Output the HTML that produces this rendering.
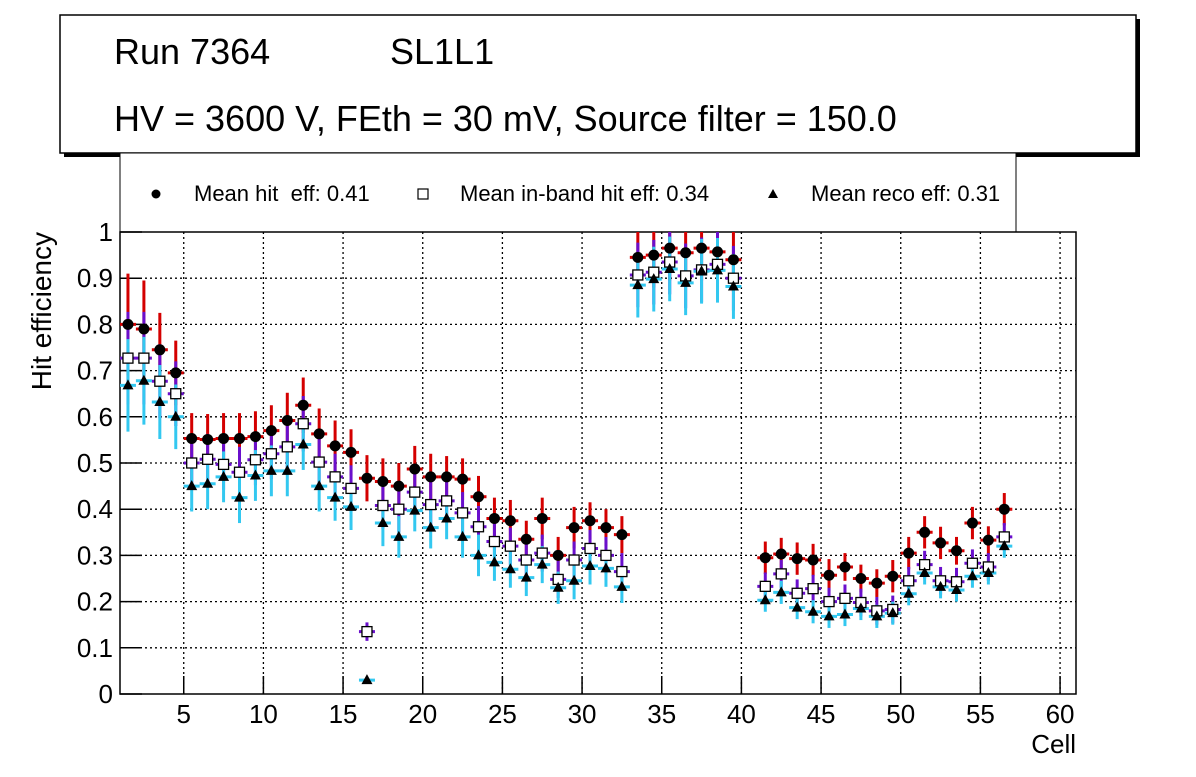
<!DOCTYPE html>
<html><head><meta charset="utf-8"><style>
body{margin:0;background:#fff;font-family:"Liberation Sans",sans-serif}
svg text{font-family:"Liberation Sans",sans-serif}
</style></head><body>
<svg id="c" width="1196" height="772" xmlns="http://www.w3.org/2000/svg">
<rect x="64" y="19" width="1076" height="138" fill="#000"/>
<rect x="60" y="15" width="1076" height="138" fill="#fff" stroke="#000" stroke-width="1.5"/>
<text x="114" y="64" font-size="36">Run 7364</text>
<text x="390" y="64" font-size="36">SL1L1</text>
<text x="114" y="131" font-size="36">HV = 3600 V, FEth = 30 mV, Source filter = 150.0</text>
<g>
<rect x="120" y="153" width="896" height="79" fill="#fff" stroke="#000" stroke-width="1"/>
<circle cx="156" cy="194" r="4.5" fill="#000"/>
<text x="194" y="201" font-size="22" xml:space="preserve">Mean hit  eff: 0.41</text>
<rect x="418" y="189" width="10" height="10" fill="#fff" stroke="#000" stroke-width="1.2"/>
<text x="460" y="201" font-size="22">Mean in-band hit eff: 0.34</text>
<polygon points="773,189 778,198 768,198" fill="#000"/>
<text x="811" y="201" font-size="22">Mean reco eff: 0.31</text>
</g>
<g id="plot"></g>
</svg>
<script>
const cells=[];for(let i=1;i<=56;i++)cells.push(i);
const hitEff=[0.80,0.79,0.745,0.695,0.553,0.551,0.553,0.553,0.557,0.57,0.592,0.625,0.563,0.537,0.523,0.467,0.46,0.45,0.487,0.47,0.47,0.465,0.427,0.38,0.375,0.335,0.38,0.30,0.36,0.375,0.36,0.345,0.945,0.95,0.965,0.955,0.965,0.957,0.94,null,0.295,0.303,0.293,0.29,0.257,0.275,0.25,0.24,0.255,0.305,0.35,0.327,0.31,0.37,0.333,0.40];
const hitErr=[0.11,0.105,0.08,0.07,0.055,0.055,0.055,0.055,0.055,0.055,0.06,0.06,0.055,0.055,0.05,0.05,0.05,0.05,0.05,0.05,0.045,0.045,0.045,0.045,0.045,0.04,0.045,0.04,0.045,0.04,0.04,0.04,0.07,0.07,0.07,0.07,0.07,0.07,0.07,null,0.035,0.035,0.035,0.035,0.035,0.03,0.03,0.03,0.035,0.035,0.035,0.035,0.03,0.035,0.03,0.035];
const inbandEff=[0.727,0.727,0.677,0.65,0.50,0.508,0.497,0.48,0.507,0.52,0.535,0.585,0.502,0.47,0.445,0.135,0.408,0.40,0.437,0.41,0.418,0.392,0.362,0.33,0.32,0.29,0.305,0.248,0.29,0.315,0.30,0.265,0.907,0.913,0.935,0.905,0.918,0.93,0.90,null,0.233,0.26,0.218,0.228,0.2,0.207,0.198,0.18,0.183,0.245,0.28,0.245,0.243,0.283,0.275,0.34];
const inbandErr=[0.1,0.1,0.08,0.07,0.055,0.055,0.055,0.055,0.055,0.055,0.055,0.06,0.055,0.05,0.05,0.02,0.05,0.05,0.05,0.05,0.045,0.045,0.045,0.04,0.04,0.04,0.04,0.04,0.04,0.04,0.04,0.04,0.07,0.07,0.07,0.07,0.07,0.07,0.07,null,0.03,0.03,0.03,0.03,0.03,0.03,0.03,0.03,0.03,0.03,0.03,0.03,0.03,0.03,0.03,0.03];
const recoEff=[0.668,0.678,0.632,0.60,0.45,0.455,0.47,0.425,0.473,0.483,0.483,0.54,0.45,0.425,0.405,0.03,0.37,0.34,0.397,0.36,0.38,0.34,0.30,0.285,0.27,0.252,0.28,0.23,0.245,0.277,0.272,0.232,0.885,0.898,0.92,0.89,0.915,0.917,0.882,null,0.203,0.22,0.187,0.178,0.168,0.172,0.185,0.168,0.175,0.217,0.262,0.232,0.225,0.255,0.262,0.32];
const recoErr=[0.1,0.095,0.08,0.07,0.055,0.055,0.055,0.055,0.055,0.055,0.055,0.055,0.055,0.05,0.05,0.005,0.05,0.045,0.045,0.045,0.045,0.045,0.045,0.04,0.04,0.04,0.04,0.035,0.04,0.04,0.04,0.035,0.07,0.07,0.07,0.07,0.07,0.07,0.07,null,0.025,0.025,0.025,0.025,0.025,0.025,0.025,0.025,0.025,0.025,0.025,0.025,0.025,0.025,0.025,0.025];
const yTicks=[0,0.1,0.2,0.3,0.4,0.5,0.6,0.7,0.8,0.9,1];
const yTickLabels=["0","0.1","0.2","0.3","0.4","0.5","0.6","0.7","0.8","0.9","1"];
const xTicks=[5,10,15,20,25,30,35,40,45,50,55,60];

const L=120,R=1076,T=232,B=694,xmin=1,xmax=61;
const X=v=>L+(v-xmin)/(xmax-xmin)*(R-L);
const Y=v=>B-v*(B-T);
const NS="http://www.w3.org/2000/svg";
const g=document.getElementById('plot');
function mk(tag,attrs,parent){const e=document.createElementNS(NS,tag);for(const k in attrs)e.setAttribute(k,attrs[k]);(parent||g).appendChild(e);return e;}
const grid=mk('g',{});


xTicks.forEach(t=>{if(t<xmax)mk('line',{x1:X(t),x2:X(t),y1:T,y2:B,stroke:'#000','stroke-dasharray':'2,3','stroke-width':1.3},grid);});
yTicks.forEach(t=>{if(t>0&&t<1)mk('line',{x1:L,x2:R,y1:Y(t),y2:Y(t),stroke:'#000','stroke-dasharray':'2,3','stroke-width':1.3},grid);});
const frame=mk('rect',{x:L,y:T,width:R-L,height:B-T,fill:'none',stroke:'#000','stroke-width':1.5});


const ax=mk('g',{});


yTicks.forEach((t,i)=>{
 mk('line',{x1:L,x2:L+22,y1:Y(t),y2:Y(t),stroke:'#000','stroke-width':1.5},ax);
 const tx=mk('text',{x:113,y:Y(t)+9,'font-size':26,'text-anchor':'end'},ax);tx.textContent=yTickLabels[i];
});
xTicks.forEach(t=>{
 mk('line',{x1:X(t),x2:X(t),y1:B,y2:B-18,stroke:'#000','stroke-width':1.5},ax);
 const tx=mk('text',{x:X(t),y:723,'font-size':26,'text-anchor':'middle'},ax);tx.textContent=String(t);});
const xt=mk('text',{x:1076,y:753,'font-size':26,'text-anchor':'end'},ax);xt.textContent='Cell';


const yt=mk('text',{x:0,y:0,'font-size':28,'text-anchor':'end',transform:'translate(51,232) rotate(-90)'},ax);yt.textContent='Hit efficiency';



const clip=mk('clipPath',{id:'pc'});mk('rect',{x:L,y:T,width:R-L,height:B-T},clip);
function series(vals,errs,color,name){
 const s=mk('g',{'clip-path':'url(#pc)'});
 
 
 cells.forEach((c,i)=>{const v=vals[i];if(v==null)return;const e=errs[i];const cx=X(c+0.5);
  mk('line',{x1:cx,x2:cx,y1:Y(v+e),y2:Y(Math.max(0,v-e)),stroke:color,'stroke-width':3},s);
  mk('line',{x1:cx-8,x2:cx+8,y1:Y(v),y2:Y(v),stroke:color,'stroke-width':3},s);});
}
series(hitEff,hitErr,'#d40000','hit');
series(inbandEff,inbandErr,'#6a0fcc','inband');
series(recoEff,recoErr,'#33c8f0','reco');
const m=mk('g',{'clip-path':'url(#pc)'});


cells.forEach((c,i)=>{const cx=X(c+0.5);
 if(hitEff[i]!=null){const p=mk('circle',{cx:cx,cy:Y(hitEff[i]),r:5.5,fill:'#000'},m);}
 if(inbandEff[i]!=null){const p=mk('rect',{x:cx-5,y:Y(inbandEff[i])-5,width:10,height:10,fill:'#fff',stroke:'#000','stroke-width':1.3},m);}
 if(recoEff[i]!=null){const y=Y(recoEff[i]);const p=mk('polygon',{points:`${cx},${y-6} ${cx+5.5},${y+4} ${cx-5.5},${y+4}`,fill:'#000'},m);}
});
</script>
</body></html>
